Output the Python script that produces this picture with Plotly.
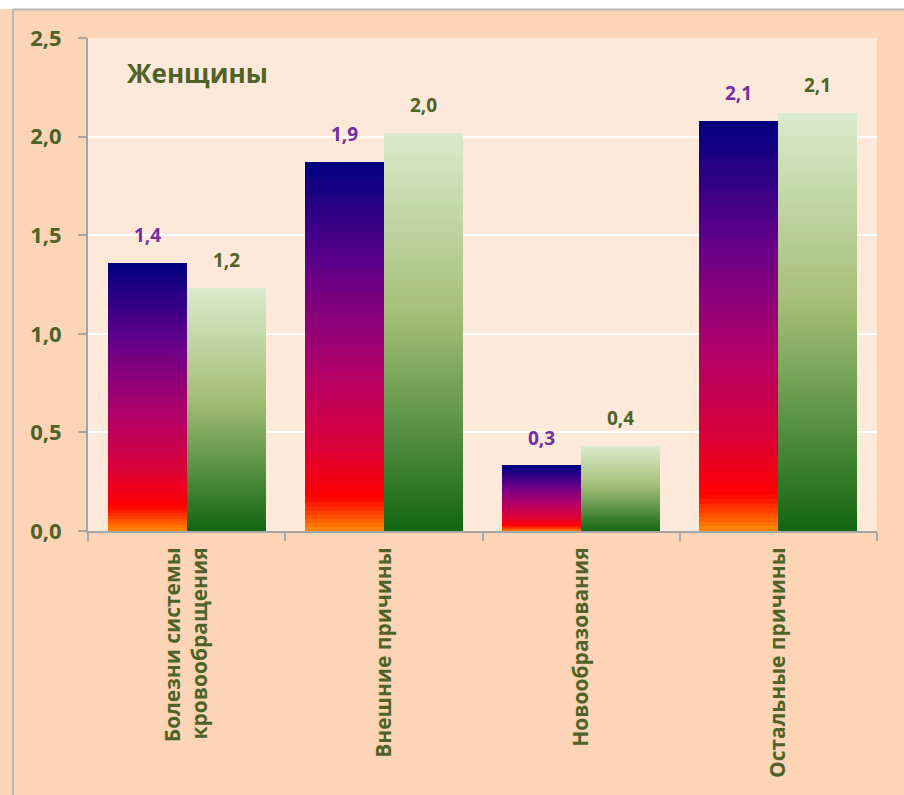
import plotly.graph_objects as go

# --- data -------------------------------------------------------------
categories = [
    "Болезни системы<br>кровообращения",
    "Внешние причины",
    "Новообразования",
    "Остальные причины",
]
series_a = [1.36, 1.87, 0.33, 2.08]   # first bar in each group
series_b = [1.23, 2.02, 0.43, 2.12]   # second bar in each group
y_tick_values = [0.0, 0.5, 1.0, 1.5, 2.0, 2.5]
chart_title = "Женщины"

# --- style ------------------------------------------------------------
W, H = 904, 795
L, R, T, B = 88, 27, 38, 264
FONT = "Open Sans"
OLIVE = "#4F6228"
PURPLE = "#7030A0"
PAPER = "#FBD5B5"
PLOT_BG = "#FDE9D9"
AXIS_GRAY = "#A6A6A6"

# gradient stops, position measured from the bar's base (0) to its top (1)
stops_a = [
    (0.00, "#FF8C00"),
    (0.09, "#FF0000"),
    (0.22, "#DC0036"),
    (0.43, "#B20068"),
    (0.57, "#8C007A"),
    (0.72, "#5E008A"),
    (1.00, "#000080"),
]
stops_b = [
    (0.00, "#136613"),
    (0.08, "#287222"),
    (0.28, "#5E9548"),
    (0.55, "#A6BF78"),
    (0.83, "#C6DAAC"),
    (1.00, "#DCE9CD"),
]

N_SEG = 90
BAR_W = 0.4


def hex_rgb(h):
    h = h.lstrip("#")
    return tuple(int(h[i:i + 2], 16) for i in (0, 2, 4))


def color_at(stops, t):
    for (p0, c0), (p1, c1) in zip(stops[:-1], stops[1:]):
        if p0 <= t <= p1:
            f = (t - p0) / (p1 - p0) if p1 > p0 else 0
            a, b = hex_rgb(c0), hex_rgb(c1)
            r = [round(a[i] + (b[i] - a[i]) * f) for i in range(3)]
            return f"rgb({r[0]},{r[1]},{r[2]})"
    return stops[-1][1]


fig = go.Figure()


def add_gradient_bars(values, stops, offset):
    # each bar is built from N_SEG stacked slices, so the colour runs
    # from the base to the top of every bar regardless of its height
    for k in range(N_SEG):
        t = (k + 0.5) / N_SEG
        fig.add_trace(go.Bar(
            x=categories,
            y=[v / N_SEG for v in values],
            base=[v * k / N_SEG for v in values],
            offset=offset,
            width=BAR_W,
            marker=dict(color=color_at(stops, t), line=dict(width=0)),
            hoverinfo="skip",
            showlegend=False,
        ))


add_gradient_bars(series_a, stops_a, -BAR_W)
add_gradient_bars(series_b, stops_b, 0.0)


def fmt(v):
    return f"{v:.1f}".replace(".", ",")


annotations = []
for i, (va, vb) in enumerate(zip(series_a, series_b)):
    annotations.append(dict(
        x=i - BAR_W / 2, y=va, xref="x", yref="y", text=fmt(va),
        showarrow=False, yanchor="bottom", yshift=13,
        font=dict(family=FONT, size=19, color=PURPLE, weight="bold"),
    ))
    annotations.append(dict(
        x=i + BAR_W / 2, y=vb, xref="x", yref="y", text=fmt(vb),
        showarrow=False, yanchor="bottom", yshift=13,
        font=dict(family=FONT, size=19, color=OLIVE, weight="bold"),
    ))

annotations.append(dict(
    x=(125 - L) / (W - L - R), y=(H - B - 73) / (H - B - T),
    xref="paper", yref="paper", text=chart_title, showarrow=False,
    xanchor="left", yanchor="middle",
    font=dict(family=FONT, size=26, color=OLIVE, weight="bold"),
))

pw, ph = W - L - R, H - T - B


def px(xp):
    return (xp - L) / pw


def py(yp):
    return (H - B - yp) / ph


shapes = [
    dict(type="rect", xref="paper", yref="paper", x0=px(0), x1=px(W),
         y0=py(9), y1=py(0), fillcolor="white", line=dict(width=0),
         layer="below"),
    dict(type="line", xref="paper", yref="paper", x0=px(13), x1=px(W),
         y0=py(9.5), y1=py(9.5), line=dict(color="#B8B8B8", width=2)),
    dict(type="line", xref="paper", yref="paper", x0=px(13), x1=px(13),
         y0=py(9), y1=py(H), line=dict(color="#B8B8B8", width=2)),
]

fig.update_layout(
    width=W, height=H,
    margin=dict(l=L, r=R, t=T, b=B, pad=0),
    paper_bgcolor=PAPER,
    plot_bgcolor=PLOT_BG,
    barmode="overlay",
    bargap=0,
    showlegend=False,
    hovermode=False,
    separators=", ",
    annotations=annotations,
    shapes=shapes,
    font=dict(family=FONT, color=OLIVE),
)

fig.update_xaxes(
    type="category",
    tickangle=-90,
    ticks="outside", tickson="boundaries", ticklen=8, tickcolor=AXIS_GRAY,
    tickwidth=1.5,
    showline=True, linecolor=AXIS_GRAY, linewidth=2,
    showgrid=False,
    tickfont=dict(family=FONT, size=21, color=OLIVE, weight="bold"),
    ticklabelstandoff=6,
)

fig.update_yaxes(
    range=[0, 2.5],
    tickvals=y_tick_values,
    tickformat=".1f",
    ticks="outside", ticklen=8, tickcolor=AXIS_GRAY, tickwidth=1.5,
    showline=True, linecolor=AXIS_GRAY, linewidth=2,
    showgrid=True, gridcolor="white", gridwidth=2,
    zeroline=False,
    tickfont=dict(family=FONT, size=22, color=OLIVE, weight="bold"),
    ticklabelstandoff=12,
)

fig.write_html("out.html")
